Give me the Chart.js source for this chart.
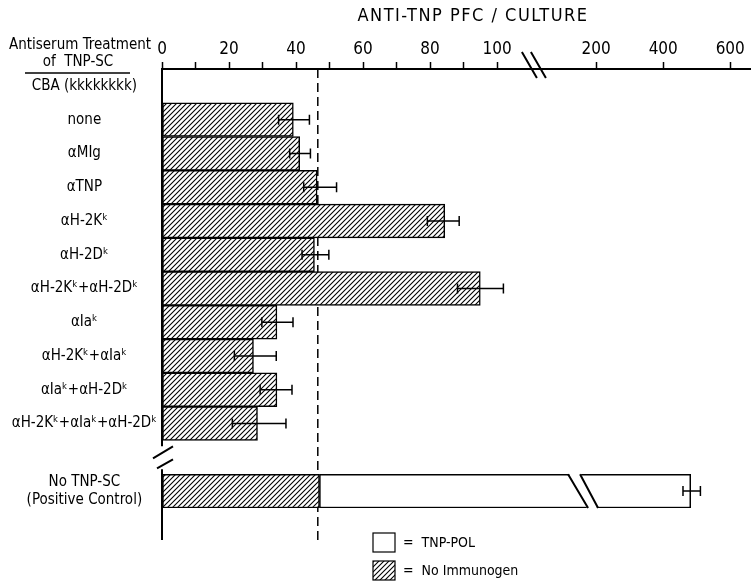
<!DOCTYPE html>
<html>
<head>
<meta charset="utf-8">
<script src="https://cdn.jsdelivr.net/npm/chart.js@4.4.0/dist/chart.umd.min.js"></script>
<style>
  html, body { margin: 0; padding: 0; background: #fff; }
</style>
</head>
<body>
<canvas id="pfcChart" width="751" height="585"></canvas>
<script>
const FONT = '"DejaVu Sans Condensed", "Liberation Sans Narrow", "DejaVu Sans", sans-serif';

// rows, top to bottom ('' = spacer row before the control)
const categories = ['CBA (kkkkkkkk)', 'none', 'αMIg', 'αTNP', 'αH-2Kᵏ', 'αH-2Dᵏ', 'αH-2Kᵏ+αH-2Dᵏ',
    'αIaᵏ', 'αH-2Kᵏ+αIaᵏ', 'αIaᵏ+αH-2Dᵏ', 'αH-2Kᵏ+αIaᵏ+αH-2Dᵏ', '', ['No TNP-SC', '(Positive Control)']];
const noImmunogen = [null, 39.2, 41.1, 46.3, 84.4, 45.5, 95.0, 34.3, 27.3, 34.3, 28.5, null, 47.0];
const tnpPol = [null, null, null, null, null, null, null, null, null, null, null, null, 482];
const errLow = [null, 34.8, 38.1, 42.3, 79.2, 41.8, 88.2, 29.8, 21.6, 29.3, 21.0, null, 459];
const errHigh = [null, 44.0, 44.3, 52.1, 88.7, 49.8, 101.9, 39.1, 34.1, 38.8, 37.0, null, 511];
const xTickValues = [0, 10, 20, 30, 40, 50, 60, 70, 80, 90, 100, 200, 400, 600];
const xTickLabels = ['0', '', '20', '', '40', '', '60', '', '80', '', '100', '200', '400', '600'];
const controlLevel = 46.5;

// broken axis: 0-110 linear, 200 and up compressed after the break
function brk(v) {
    return v <= 110 ? v : 129.6 + (v - 200) * 0.1;
}

const ctx = document.getElementById('pfcChart').getContext('2d');

function hatchPattern() {
    const c = document.createElement('canvas');
    c.width = 5; c.height = 5;
    const g = c.getContext('2d');
    g.fillStyle = '#fff';
    g.fillRect(0, 0, 5, 5);
    g.strokeStyle = '#000';
    g.lineWidth = 1.1;
    g.beginPath();
    g.moveTo(0, 5); g.lineTo(5, 0);
    g.moveTo(-1, 1); g.lineTo(1, -1);
    g.moveTo(4, 6); g.lineTo(6, 4);
    g.stroke();
    return ctx.createPattern(c, 'repeat');
}
const hatch = hatchPattern();

const decorations = {
    id: 'decorations',
    beforeDatasetsDraw(chart) {
        const { ctx, chartArea, scales: { x } } = chart;
        // dashed reference line
        const dx = x.getPixelForValue(brk(controlLevel));
        ctx.save();
        ctx.strokeStyle = '#000';
        ctx.lineWidth = 1.5;
        ctx.setLineDash([9, 5]);
        ctx.beginPath();
        ctx.moveTo(dx, chartArea.top);
        ctx.lineTo(dx, 542);
        ctx.stroke();
        ctx.restore();
    },
    afterDatasetsDraw(chart) {
        const { ctx, chartArea, scales: { x, y } } = chart;
        ctx.save();
        ctx.strokeStyle = '#000';
        ctx.fillStyle = '#000';

        // error bars
        ctx.lineWidth = 1.5;
        errLow.forEach((lo, i) => {
            if (lo == null) return;
            const yy = y.getPixelForValue(i);
            const x1 = x.getPixelForValue(brk(lo));
            const x2 = x.getPixelForValue(brk(errHigh[i]));
            ctx.beginPath();
            ctx.moveTo(x1, yy); ctx.lineTo(x2, yy);
            ctx.moveTo(x1, yy - 5); ctx.lineTo(x1, yy + 5);
            ctx.moveTo(x2, yy - 5); ctx.lineTo(x2, yy + 5);
            ctx.stroke();
        });

        // break in the long control bar
        const bar = chart.getDatasetMeta(0).data[12];
        if (bar) {
            const top = bar.y - bar.height / 2;
            const bot = bar.y + bar.height / 2;
            const gx = x.getPixelForValue(121.2);
            ctx.fillStyle = '#fff';
            ctx.beginPath();
            ctx.moveTo(gx, top - 2); ctx.lineTo(gx + 12, top - 2);
            ctx.lineTo(gx + 30, bot + 2); ctx.lineTo(gx + 20, bot + 2);
            ctx.closePath();
            ctx.fill();
            ctx.lineWidth = 2;
            ctx.beginPath();
            ctx.moveTo(gx, top); ctx.lineTo(gx + 20, bot);
            ctx.moveTo(gx + 12, top); ctx.lineTo(gx + 30, bot);
            ctx.stroke();
        }

        // y axis line with break
        const x0 = chartArea.left;
        const c = y.getPixelForValue(11);
        ctx.lineWidth = 2;
        ctx.beginPath();
        ctx.moveTo(x0, chartArea.top); ctx.lineTo(x0, c - 11);
        ctx.moveTo(x0, c + 12); ctx.lineTo(x0, 540);
        ctx.moveTo(x0 - 9, c + 1); ctx.lineTo(x0 + 11, c - 11);
        ctx.moveTo(x0 - 5, c + 11); ctx.lineTo(x0 + 11, c + 2);
        ctx.stroke();

        // x axis break
        const bx = x.getPixelForValue(111.3);
        const ax = chartArea.top;
        ctx.beginPath();
        ctx.moveTo(bx - 13, ax - 17); ctx.lineTo(bx + 2, ax + 9);
        ctx.moveTo(bx - 4, ax - 17); ctx.lineTo(bx + 11, ax + 9);
        ctx.stroke();

        // title and row header
        ctx.fillStyle = '#000';
        ctx.textBaseline = 'middle';
        ctx.textAlign = 'center';
        ctx.font = '18px ' + FONT;
        ctx.letterSpacing = '1.5px';
        ctx.fillText('ANTI-TNP PFC / CULTURE', 473, 16);
        ctx.letterSpacing = '0px';
        ctx.font = '15px ' + FONT;
        ctx.fillText('Antiserum Treatment', 80, 45);
        ctx.fillText('of  TNP-SC', 78, 62);
        ctx.lineWidth = 1.5;
        ctx.beginPath();
        ctx.moveTo(25, 73); ctx.lineTo(130, 73);
        ctx.stroke();

        // legend
        const ds = chart.data.datasets;
        const rows = [{ y: 542, fill: '#fff', label: ds[0].label }, { y: 570, fill: hatch, label: ds[1].label }];
        ctx.textAlign = 'left';
        ctx.font = '14px ' + FONT;
        rows.forEach(r => {
            ctx.fillStyle = r.fill;
            ctx.fillRect(373, r.y - 9, 22, 19);
            ctx.lineWidth = 1.2;
            ctx.strokeRect(373, r.y - 9, 22, 19);
            ctx.fillStyle = '#000';
            ctx.fillText('=  ' + r.label, 403, r.y + 1);
        });
        ctx.restore();
    }
};

new Chart(ctx, {
    type: 'bar',
    data: {
        labels: categories,
        datasets: [{
            label: 'TNP-POL',
            data: tnpPol.map((v, i) => v == null ? null : [brk(noImmunogen[i]), brk(v)]),
            backgroundColor: '#fff',
            borderColor: '#000',
            borderWidth: 1.5,
            borderSkipped: false,
            grouped: false,
            barPercentage: 1,
            categoryPercentage: 1
        }, {
            label: 'No Immunogen',
            data: noImmunogen.map(v => v == null ? null : brk(v)),
            backgroundColor: hatch,
            borderColor: '#000',
            borderWidth: 1.5,
            borderSkipped: false,
            grouped: false,
            barPercentage: 1,
            categoryPercentage: 1
        }]
    },
    options: {
        indexAxis: 'y',
        responsive: false,
        animation: false,
        devicePixelRatio: 1,
        layout: { padding: { top: 0, left: 0, right: 0, bottom: 77 } },
        plugins: {
            legend: { display: false },
            title: { display: false },
            tooltip: { enabled: false }
        },
        scales: {
            x: {
                type: 'linear',
                position: 'top',
                min: 0,
                max: 175.8,
                afterBuildTicks: function (s) {
                    s.ticks = xTickValues.map(v => ({ value: brk(v) }));
                },
                afterFit: function (s) { s.height = 69; },
                ticks: {
                    autoSkip: false,
                    maxRotation: 0,
                    color: '#000',
                    padding: 2,
                    font: { family: FONT, size: 17 },
                    callback: function (value, index) {
                        return xTickLabels[index];
                    }
                },
                grid: {
                    drawOnChartArea: false,
                    drawTicks: true,
                    tickLength: 7,
                    tickColor: '#000',
                    tickWidth: 1.5
                },
                border: { display: true, color: '#000', width: 2 }
            },
            y: {
                type: 'category',
                afterFit: function (s) { s.width = 162; },
                grid: { display: false, drawTicks: false },
                border: { display: false },
                ticks: {
                    color: '#000',
                    crossAlign: 'center',
                    padding: 5,
                    autoSkip: false,
                    font: { family: FONT, size: 15 }
                }
            }
        }
    },
    plugins: [decorations]
});
</script>
</body>
</html>
